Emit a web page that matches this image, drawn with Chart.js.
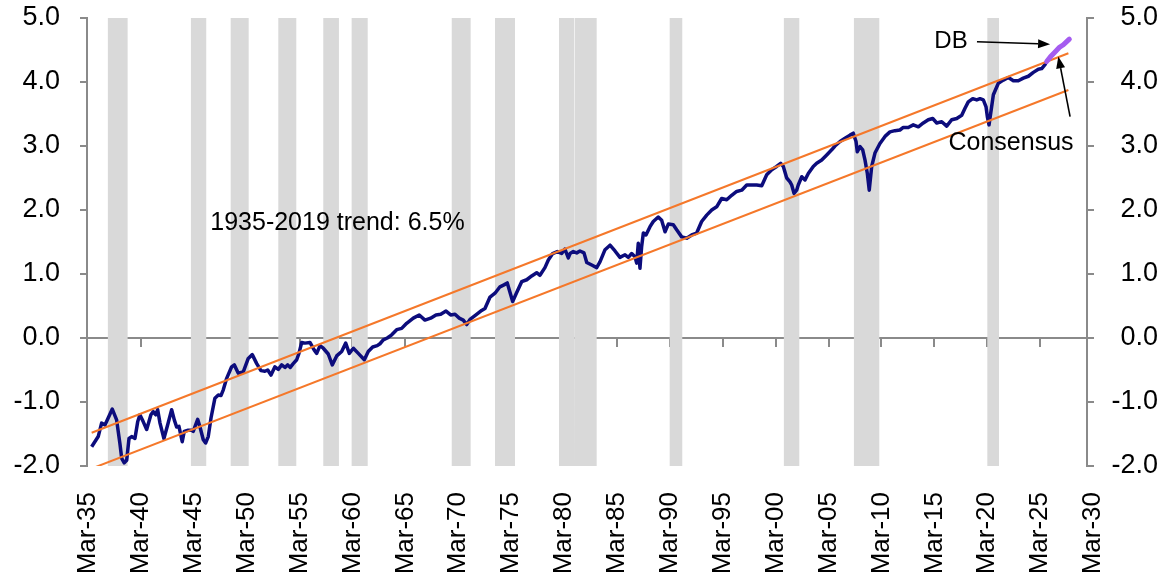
<!DOCTYPE html>
<html><head><meta charset="utf-8">
<script src="https://cdn.jsdelivr.net/npm/chart.js@4.4.1/dist/chart.umd.min.js"></script>
<style>html,body{margin:0;padding:0;background:#fff;}canvas{display:block;}</style>
</head><body>
<canvas id="c" width="1158" height="577"></canvas>
<script>
// ---- data (natural log of earnings) ----
const years = [1935.52,1936.14,1936.46,1936.78,1937.47,1937.88,1938.19,1938.36,1938.60,1938.83,1939.05,1939.30,1939.61,1939.87,1940.08,1940.40,1940.72,1941.12,1941.34,1941.57,1941.76,1941.98,1942.35,1942.70,1943.08,1943.33,1943.55,1943.77,1944.08,1944.27,1944.65,1944.97,1945.12,1945.54,1945.76,1946.07,1946.29,1946.54,1946.80,1947.17,1947.49,1947.74,1947.96,1948.28,1948.75,1949.00,1949.38,1949.85,1950.32,1950.70,1951.12,1951.52,1951.90,1952.16,1952.47,1952.84,1953.16,1953.48,1953.79,1954.05,1954.29,1954.57,1954.90,1955.11,1955.37,1955.68,1956.15,1956.56,1956.79,1957.10,1957.41,1957.88,1958.26,1958.68,1959.15,1959.53,1959.87,1960.25,1960.72,1961.29,1961.66,1962.08,1962.51,1962.77,1963.08,1963.46,1963.88,1964.35,1964.82,1965.29,1965.92,1966.48,1967.02,1967.56,1968.06,1968.51,1969.01,1969.45,1969.86,1970.26,1970.64,1970.96,1971.28,1971.84,1972.38,1972.69,1973.17,1973.64,1974.11,1974.49,1974.80,1975.31,1975.69,1976.16,1976.64,1977.11,1977.58,1977.89,1978.36,1978.68,1979.09,1979.53,1979.94,1980.25,1980.57,1980.73,1981.04,1981.36,1981.67,1982.05,1982.31,1982.78,1983.25,1983.56,1984.04,1984.51,1984.98,1985.45,1985.93,1986.24,1986.56,1986.87,1987.03,1987.18,1987.34,1987.50,1987.66,1987.91,1988.29,1988.60,1989.07,1989.39,1989.71,1990.02,1990.49,1990.81,1991.28,1991.76,1992.23,1992.70,1993.17,1993.65,1994.12,1994.59,1995.06,1995.54,1996.01,1996.48,1996.96,1997.43,1997.90,1998.37,1998.85,1999.32,1999.79,2000.26,2000.64,2000.89,2001.21,2001.52,2001.68,2001.90,2002.15,2002.30,2002.63,2002.94,2003.25,2003.72,2004.04,2004.52,2004.99,2005.46,2005.77,2006.25,2006.72,2007.19,2007.50,2007.76,2007.88,2008.14,2008.39,2008.61,2008.83,2009.01,2009.24,2009.55,2010.02,2010.50,2010.97,2011.44,2011.91,2012.23,2012.70,2013.17,2013.65,2014.12,2014.59,2015.01,2015.39,2015.86,2016.33,2016.80,2017.28,2017.75,2018.06,2018.37,2018.79,2019.17,2019.48,2019.79,2020.05,2020.17,2020.33,2020.49,2020.74,2021.21,2021.68,2022.16,2022.63,2023.10,2023.57,2024.05,2024.52,2024.99,2025.31,2025.62,2025.78];
const earnings = [-1.70,-1.54,-1.33,-1.36,-1.11,-1.28,-1.65,-1.88,-1.95,-1.91,-1.57,-1.54,-1.57,-1.31,-1.20,-1.31,-1.43,-1.20,-1.15,-1.20,-1.12,-1.33,-1.57,-1.36,-1.12,-1.28,-1.39,-1.38,-1.62,-1.46,-1.44,-1.44,-1.46,-1.27,-1.39,-1.59,-1.64,-1.54,-1.25,-0.94,-0.89,-0.90,-0.81,-0.63,-0.45,-0.42,-0.55,-0.53,-0.32,-0.26,-0.40,-0.51,-0.52,-0.50,-0.58,-0.45,-0.49,-0.42,-0.46,-0.42,-0.46,-0.40,-0.34,-0.24,-0.07,-0.08,-0.07,-0.19,-0.24,-0.12,-0.16,-0.25,-0.42,-0.28,-0.21,-0.08,-0.24,-0.16,-0.24,-0.34,-0.21,-0.14,-0.12,-0.09,-0.03,0.00,0.05,0.13,0.15,0.23,0.31,0.36,0.28,0.31,0.36,0.37,0.42,0.36,0.37,0.31,0.28,0.21,0.29,0.36,0.43,0.46,0.64,0.70,0.80,0.83,0.86,0.57,0.71,0.88,0.91,0.97,1.02,0.98,1.10,1.22,1.32,1.35,1.32,1.39,1.25,1.32,1.35,1.33,1.36,1.33,1.18,1.14,1.10,1.19,1.38,1.45,1.36,1.26,1.30,1.26,1.32,1.27,1.17,1.48,1.09,1.43,1.64,1.61,1.74,1.82,1.89,1.84,1.66,1.78,1.77,1.69,1.58,1.56,1.61,1.64,1.82,1.92,2.00,2.05,2.18,2.16,2.23,2.29,2.31,2.39,2.39,2.39,2.38,2.55,2.63,2.68,2.73,2.68,2.50,2.44,2.39,2.26,2.31,2.39,2.52,2.47,2.57,2.68,2.73,2.78,2.86,2.94,3.00,3.07,3.12,3.17,3.20,3.07,2.91,2.99,2.94,2.78,2.57,2.31,2.68,2.89,3.04,3.15,3.22,3.24,3.25,3.29,3.29,3.33,3.30,3.36,3.41,3.43,3.36,3.38,3.31,3.41,3.43,3.48,3.59,3.69,3.74,3.72,3.74,3.72,3.61,3.46,3.33,3.51,3.80,3.98,4.03,4.07,4.02,4.02,4.06,4.09,4.15,4.20,4.21,4.27,4.32];
const dbYears = [2025.78,2026.16,2026.57,2026.97,2027.35,2027.67,2027.92];
const dbValues = [4.32,4.40,4.47,4.54,4.58,4.63,4.67];
const trendYears = [1935.52,2027.83];
const trendUpper = [-1.48,4.45];
const trendLower = [-2.04,3.875];
const recessionStart = [1937.03,1944.90,1948.66,1953.16,1957.41,1960.09,1969.55,1973.64,1979.69,1981.20,1990.15,2000.94,2007.56,2020.17];
const recessionEnd   = [1938.92,1946.35,1950.36,1954.86,1958.89,1961.61,1971.34,1975.53,1981.11,1983.25,1991.34,2002.40,2009.96,2021.28];
const xTickYears = [1935,1940,1945,1950,1955,1960,1965,1970,1975,1980,1985,1990,1995,2000,2005,2010,2015,2020,2025,2030];
const yTicks = [-2,-1,0,1,2,3,4,5];
const trendLabel = '1935-2019 trend: 6.5%';
const dbLabel = 'DB';
const consensusLabel = 'Consensus';

// ---- chart construction ----
const XMIN = 1935.08, XMAX = 2029.59, YMIN = -2, YMAX = 5;
const FONT = "'Liberation Sans', Arial, Helvetica, sans-serif";
const AXIS = '#8a8a8a';
const xy = (xs, ys) => xs.map((x, i) => ({x, y: ys[i]}));
const recessionPts = [];
recessionStart.forEach((s, i) => {
  const e = recessionEnd[i];
  recessionPts.push({x:s,y:YMIN},{x:s,y:YMAX},{x:e,y:YMAX},{x:e,y:YMIN});
});
const marchTick = y => y + 2/12;

const notes = [
  {text: trendLabel, x: 1958.75, y: 1.80, size: 25},
  {text: dbLabel, x: 2016.74, y: 4.63, size: 24},
  {text: consensusLabel, x: 2022.41, y: 3.05, size: 25}
];
const arrows = [
  {from:[2019.19,4.63], to:[2026.10,4.59]},
  {from:[2027.99,3.46], to:[2026.88,4.40]}
];

const notesPlugin = {
  id: 'notes',
  afterDatasetsDraw(chart) {
    const {ctx, scales:{x, y}} = chart;
    ctx.save();
    ctx.fillStyle = '#000';
    ctx.textAlign = 'center';
    ctx.textBaseline = 'middle';
    notes.forEach(n => {
      ctx.font = n.size + 'px ' + FONT;
      ctx.fillText(n.text, x.getPixelForValue(n.x), y.getPixelForValue(n.y));
    });
    ctx.strokeStyle = '#000';
    ctx.lineWidth = 1.6;
    arrows.forEach(a => {
      const x1 = x.getPixelForValue(a.from[0]), y1 = y.getPixelForValue(a.from[1]);
      const x2 = x.getPixelForValue(a.to[0]), y2 = y.getPixelForValue(a.to[1]);
      const ang = Math.atan2(y2 - y1, x2 - x1);
      const L = 12, W = 4.5;
      const bx = x2 - L * Math.cos(ang), by = y2 - L * Math.sin(ang);
      ctx.beginPath(); ctx.moveTo(x1, y1); ctx.lineTo(bx, by); ctx.stroke();
      ctx.beginPath();
      ctx.moveTo(x2, y2);
      ctx.lineTo(bx + W * Math.sin(ang), by - W * Math.cos(ang));
      ctx.lineTo(bx - W * Math.sin(ang), by + W * Math.cos(ang));
      ctx.closePath(); ctx.fillStyle = '#000'; ctx.fill();
    });
    ctx.restore();
  }
};

Chart.defaults.font.family = FONT;
new Chart(document.getElementById('c'), {
  type: 'line',
  data: {
    datasets: [
      {label:'DB', data: xy(dbYears, dbValues), borderColor:'#a55cf0', borderWidth:5, pointRadius:0, order:0, borderCapStyle:'round'},
      {label:'Upper trend', data: xy(trendYears, trendUpper), borderColor:'#f5782a', borderWidth:2, pointRadius:0, order:1},
      {label:'Lower trend', data: xy(trendYears, trendLower), borderColor:'#f5782a', borderWidth:2, pointRadius:0, order:1},
      {label:'Earnings', data: xy(years, earnings), borderColor:'#0c0c7c', borderWidth:3.5, pointRadius:0, order:2, borderJoinStyle:'round'},
      {label:'Recessions', data: recessionPts, borderWidth:0, borderColor:'rgba(0,0,0,0)', backgroundColor:'#d9d9d9', fill:{value:YMIN}, pointRadius:0, order:3}
    ]
  },
  options: {
    responsive:false, animation:false, devicePixelRatio:1,
    layout:{padding:{top:0,bottom:0,left:0,right:0}},
    plugins:{legend:{display:false}, tooltip:{enabled:false}},
    scales:{
      x:{type:'linear', position:'bottom', min:XMIN, max:XMAX,
        afterBuildTicks: s => { s.ticks = xTickYears.map(v => ({value: marchTick(v)})); },
        afterFit: s => { s.height = 111; },
        ticks:{autoSkip:false, minRotation:90, maxRotation:90, padding:26, color:'#000', font:{size:26},
          callback: v => 'Mar-' + String(Math.floor(v) % 100).padStart(2,'0')},
        grid:{display:false, drawTicks:false}, border:{display:false}},
      x2:{type:'linear', position:{y:0}, min:XMIN, max:XMAX, z:1,
        afterBuildTicks: s => { s.ticks = xTickYears.slice(1,-1).map(v => ({value: marchTick(v)})); },
        ticks:{display:false},
        grid:{drawOnChartArea:false, drawTicks:true, tickLength:8, color:AXIS, lineWidth:2},
        border:{display:true, color:AXIS, width:2}},
      y:{position:'left', min:YMIN, max:YMAX,
        afterBuildTicks: s => { s.ticks = yTicks.map(v => ({value:v})); },
        afterFit: s => { s.width = 87; s.paddingTop = 18; s.paddingBottom = 0; },
        ticks:{padding:20, color:'#000', font:{size:27}, callback: v => Number(v).toFixed(1)},
        grid:{drawOnChartArea:false, drawTicks:true, tickLength:7, color:AXIS, lineWidth:2},
        border:{display:true, color:AXIS, width:2}},
      y2:{position:'right', min:YMIN, max:YMAX,
        afterBuildTicks: s => { s.ticks = yTicks.map(v => ({value:v})); },
        afterFit: s => { s.width = 71; s.paddingTop = 18; s.paddingBottom = 0; },
        ticks:{padding:4, crossAlign:'far', color:'#000', font:{size:27}, callback: v => Number(v).toFixed(1)},
        grid:{drawOnChartArea:false, drawTicks:true, tickLength:7, color:AXIS, lineWidth:2},
        border:{display:true, color:AXIS, width:2}}
    }
  },
  plugins:[notesPlugin]
});
</script>
</body></html>
